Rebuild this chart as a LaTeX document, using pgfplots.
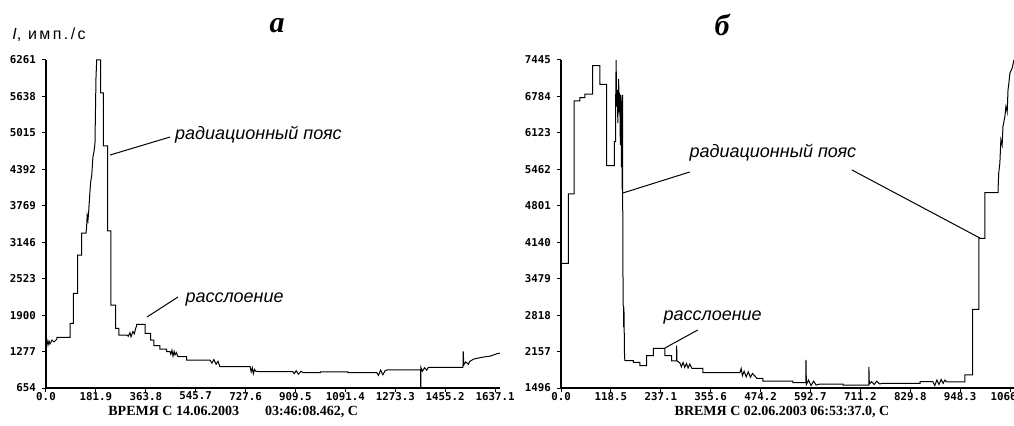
\documentclass[border=0pt]{standalone}
\usepackage{fontspec}
\setmainfont{Liberation Serif}
\newfontfamily\annfont{Liberation Sans}
\newfontfamily\tickfont{DejaVu Sans Mono}
\usepackage{pgfplots}
\pgfplotsset{compat=1.18}

\pgfplotsset{
  panel/.style={
    scale only axis, anchor=south west, clip=false,
    height=164pt,
    axis lines=left,
    axis line style={-, line width=0.7pt},
    tick align=outside,
    major tick length=2pt,
    tick style={black, line width=0.5pt},
    /pgf/number format/assume math mode=true,
    ticklabel style={font=\tickfont\bfseries\fontsize{5.4}{6}\selectfont},
    yticklabel style={xshift=0.5pt},
    xticklabel style={yshift=3.5pt},
  },
  trace/.style={black, line width=0.5pt, sharp plot},
}

\newcommand\annot{\annfont\itshape\fontsize{9}{10}\selectfont}

\begin{document}
\begin{tikzpicture}

% ---------------- panel (a) ----------------
\begin{axis}[panel,
  at={(23pt,18.5pt)}, width=227pt,
  xmin=0, xmax=1655, ymin=654, ymax=6261,
  xtick={0,181.9,363.8,545.7,727.6,909.5,1091.4,1273.3,1455.2,1637.1},
  xticklabels={0.0,181.9,363.8,545.7,727.6,909.5,1091.4,1273.3,1455.2,1637.1},
  ytick={654,1277,1900,2523,3146,3769,4392,5015,5638,6261},
  yticklabels={654,1277,1900,2523,3146,3769,4392,5015,5638,6261},
]
\addplot[trace] coordinates {
  (0,1423)(3.6,1474)(7.3,1389)(10.9,1457)(14.6,1406)(21.9,1474)(29.2,1440)
  (40.1,1491)(40.1,1520)(87.5,1520)(87.5,1760)(99.5,1760)(99.5,2272)
  (115.5,2272)(115.5,2927)(130.1,2927)(130.1,3303)(145.8,3303)(148,3400)
  (150,3600)(153,3520)(156,3700)(160,4000)(163,4180)(167,4300)(171,4600)
  (175,4700)(178.6,4841)(180,5300)(182.3,5969)(184.8,6261)(199.4,6261)
  (199.4,5701)(208.9,5701)(208.9,4795)(224.9,4795)(224.9,3342)(236.9,3342)
  (236.9,2072)(254.1,2072)(254.1,1674)(266.1,1674)(266.1,1560)(294,1560)
  (300,1540)(306,1600)(310,1530)(317,1620)(322,1580)(327,1680)(330.6,1714)
  (330.6,1743)(360.9,1743)(360.9,1588)(381.6,1588)(381.6,1474)(393.7,1474)
  (393.7,1377)(415.5,1377)(415.5,1320)(440,1320)(440,1274)(452,1274)
  (455,1230)(459,1300)(463,1200)(467,1280)(470,1220)(475,1260)(481,1189)
  (512.9,1189)(512.9,1132)(598,1132)(605,1080)(612,1140)(620,1060)
  (627,1110)(634,1018)(744,1018)(748,930)(752,1000)(756,900)(760,970)
  (765,940)(780,933)(900,933)(905,900)(912,950)(920,890)(930,940)(937,916)
  (1000,916)(1000,930)(1100,930)(1100,916)(1206,916)(1212,870)(1220,960)
  (1228,880)(1236,950)(1243,962)(1366,962)(1366,654)(1367,654)(1367,1000)
  (1372,940)(1380,1000)(1388,960)(1394,1008)(1520,1008)(1521,1280)
  (1523,1050)(1530,1100)(1540,1060)(1545,1110)(1560,1150)(1590,1180)
  (1620,1200)(1644,1240)(1655,1250)
};
\draw[black, line width=0.5pt] (axis cs:233,4636) -- (axis cs:452,4944);
\node[anchor=west, inner sep=1pt] at (axis cs:462,4990) {\annot радиационный пояс};
\draw[black, line width=0.5pt] (axis cs:368,1867) -- (axis cs:481,2209);
\node[anchor=west, inner sep=1pt] at (axis cs:500,2170) {\annot расслоение};
\end{axis}

% ---------------- panel (b) ----------------
\begin{axis}[panel,
  at={(280.5pt,18.5pt)}, width=227.3pt,
  xmin=0, xmax=1080, ymin=1496, ymax=7445,
  xtick={0,118.5,237.1,355.6,474.2,592.7,711.2,829.8,948.3,1066.8},
  xticklabels={0.0,118.5,237.1,355.6,474.2,592.7,711.2,829.8,948.3,1066.8},
  ytick={1496,2157,2818,3479,4140,4801,5462,6123,6784,7445},
  yticklabels={1496,2157,2818,3479,4140,4801,5462,6123,6784,7445},
]
\addplot[trace] coordinates {
  (0,3758)(17.3,3758)(17.3,5015)(30.9,5015)(30.9,6702)(45.1,6702)
  (45.1,6762)(57,6762)(57,6824)(75.3,6824)(75.3,7343)(92.6,7343)
  (92.6,7005)(108.5,7005)(108.5,5529)(126.6,5529)(126.6,5964)(129.9,5964)
  (129.9,6720)(131,7445)(132,6600)(134,6900)(135,6300)(137,7100)(138,6500)
  (139.5,6850)(141,5900)(142.5,6811)(143.5,5500)(144.5,6700)(145.5,5100)
  (146.5,6811)(146.5,5033)(147,4200)(147.5,3000)(148.5,2980)(149,2600)
  (149.5,2950)(150,2700)(150.5,2300)(151,2050)(152,1991)(171.7,1991)
  (171.7,1960)(187.6,1960)(187.6,1901)(203.5,1901)(203.5,2082)(219.2,2082)
  (219.2,2216)(247,2216)(247,2082)(262.9,2082)(262.9,1986)(274.8,1986)
  (274.8,2263)(275.5,1986)(282.6,1950)(286,1880)(290,1960)(294,1870)
  (298,1940)(302,1860)(306,1930)(311,1853)(337,1853)(337,1774)(425,1774)
  (428,1850)(431,1720)(435,1800)(440,1700)(445,1790)(450,1690)(455,1760)
  (465.5,1672)(479.8,1672)(479.8,1623)(551,1623)(551,1592)(582,1592)
  (582,2004)(583,1560)(588,1640)(594,1540)(600,1620)(606,1550)(615,1568)
  (670,1568)(670,1550)(731.5,1550)(731.5,1877)(732.5,1570)(738,1610)
  (744,1560)(750,1620)(757,1570)(765,1581)(853,1581)(853,1610)(883.5,1610)
  (888,1540)(893,1640)(898,1560)(903,1650)(908,1580)(912,1640)(917,1605)
  (959.5,1605)(959.5,1732)(977.8,1732)(977.8,2924)(992.8,2924)(992.8,4211)
  (1007,4211)(1007,5039)(1038.6,5039)(1038.6,5148)(1040,5400)(1042.6,5572)
  (1045,5995)(1048,5900)(1050,6236)(1054.5,6418)(1057,6599)(1060,6500)
  (1062,6902)(1064,7023)(1066.4,7205)(1072,7300)(1076,7445)
};
\draw[black, line width=0.5pt] (axis cs:147,5033) -- (axis cs:306,5414);
\draw[black, line width=0.5pt] (axis cs:691,5451) -- (axis cs:995,4217);
\node[anchor=west, inner sep=1pt] at (axis cs:300,5760) {\annot радиационный пояс};
\draw[black, line width=0.5pt] (axis cs:247,2222) -- (axis cs:325,2548);
\node[anchor=west, inner sep=1pt] at (axis cs:238,2780) {\annot расслоение};
\end{axis}

% axis captions and panel letters
\node[anchor=west, inner sep=0pt] at (6pt,195pt)
  {\annfont\fontsize{8}{9}\selectfont\addfontfeatures{LetterSpace=15}\textit{I}, имп./с};
\node[font=\bfseries\itshape\fontsize{15}{16}\selectfont] at (138.5pt,199.5pt) {а};
\node[font=\bfseries\itshape\fontsize{15}{16}\selectfont] at (361pt,200pt) {б};
\node[anchor=west, inner sep=0pt, font=\bfseries\fontsize{7}{8}\selectfont]
  at (54pt,6.5pt) {ВРЕМЯ С 14.06.2003\hspace{13pt}03:46:08.462, С};
\node[inner sep=0pt, font=\bfseries\fontsize{7}{8}\selectfont]
  at (391pt,6.5pt) {BRЕМЯ С 02.06.2003 06:53:37.0, С};

\pgfresetboundingbox
\useasboundingbox (0,0) rectangle (507pt,212.5pt);
\end{tikzpicture}
\end{document}
